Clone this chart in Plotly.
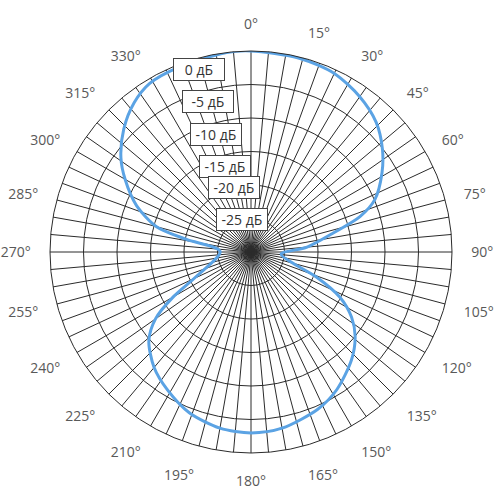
import math
import plotly.graph_objects as go

# antenna pattern (angle in degrees, level in dB)
theta = [0, 14, 25, 35, 44, 52, 59, 67, 72, 77, 85, 94,
         105, 111, 117, 123, 129, 137, 148, 157, 170, 180,
         190, 201, 211, 220, 229, 235, 240, 246, 271,
         281, 285, 292, 300, 306, 314, 322, 329, 338, 353, 360]
level_db = [0.0, -0.2, -0.6, -1.7, -3.1, -5.1, -7.2, -9.9, -12.9, -17.4, -21.6, -25.5,
            -23.5, -19.5, -15.1, -12.1, -10.0, -8.0, -5.8, -4.5, -3.3, -3.0,
            -3.3, -4.3, -5.9, -7.5, -9.8, -12.6, -16.6, -21.1, -25.4,
            -20.2, -15.4, -11.6, -8.3, -6.0, -3.6, -1.7, -0.65, -0.4, 0.0, 0.0]

ring_db = [0, -5, -10, -15, -20, -25]
ring_labels = ["0 дБ", "-5 дБ", "-10 дБ", "-15 дБ", "-20 дБ", "-25 дБ"]
angle_ticks = list(range(0, 360, 5))
# 345 is left blank: the dB boxes sit on that spoke
angle_text = [f"{a}°" if a % 15 == 0 and a != 345 else "" for a in angle_ticks]

r_min, r_max = -30, 0
label_angle = 345

fig = go.Figure()
fig.add_trace(go.Scatterpolar(
    r=level_db, theta=theta, mode="lines",
    line=dict(color="#5BA3E4", width=3, shape="spline", smoothing=0.8),
    hoverinfo="skip", showlegend=False,
))

# boxed dB labels along the 345 deg spoke (paper coords, polar fills the square domain)
for db, txt in zip(ring_db, ring_labels):
    frac = (db - r_min) / (r_max - r_min)
    a = math.radians(label_angle)
    fig.add_annotation(
        x=0.5 + 0.5 * frac * math.sin(a), y=0.5 + 0.5 * frac * math.cos(a),
        xref="paper", yref="paper", text=txt, showarrow=False,
        font=dict(family="Open Sans", size=14, color="#333333"),
        bgcolor="white", bordercolor="#444444", borderwidth=1, borderpad=1,
        width=48,
    )

fig.update_layout(
    width=500, height=500,
    margin=dict(l=50, r=48, t=51, b=47),
    paper_bgcolor="white",
    polar=dict(
        domain=dict(x=[0, 1], y=[0, 1]),
        bgcolor="white",
        angularaxis=dict(
            rotation=90, direction="clockwise",
            tickmode="array", tickvals=angle_ticks, ticktext=angle_text,
            showgrid=True, gridcolor="#2b2b2b", gridwidth=1,
            showline=True, linecolor="#2b2b2b", linewidth=1,
            ticks="outside", ticklen=16, tickcolor="rgba(0,0,0,0)",
            tickfont=dict(family="Open Sans", size=14, color="#595959"),
        ),
        radialaxis=dict(
            range=[r_min, r_max], tickvals=ring_db,
            showticklabels=False, ticks="", showline=False,
            gridcolor="#2b2b2b", gridwidth=1, angle=label_angle,
        ),
    ),
)

# drop the default 8px page margin so the figure sits at the window corner
fig.write_html("out.html", config={"displayModeBar": False},
               post_script="document.body.style.margin='0';")
